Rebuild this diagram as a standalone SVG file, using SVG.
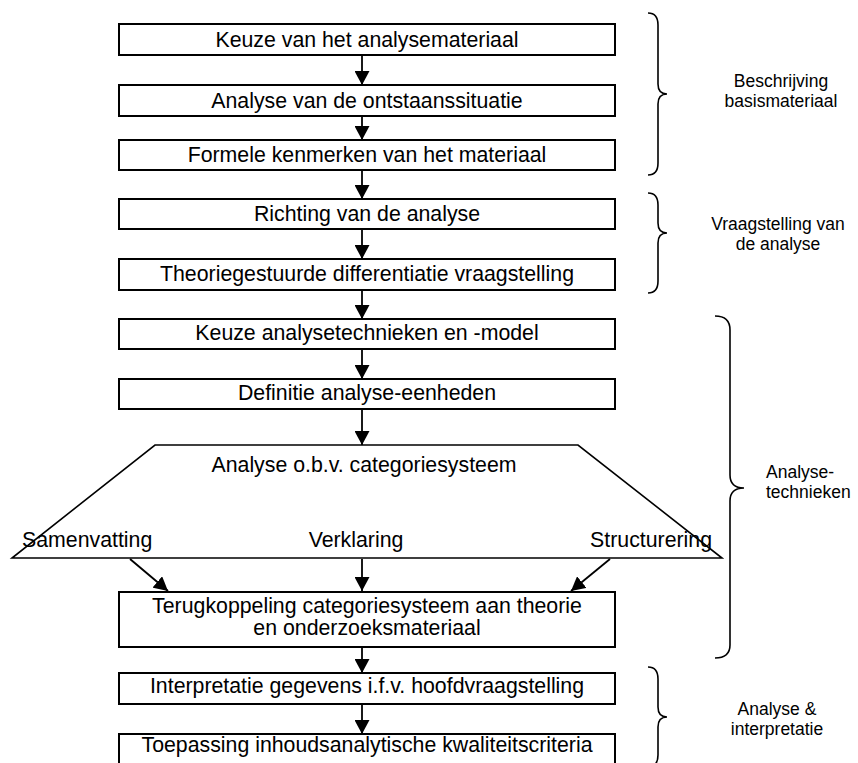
<svg xmlns="http://www.w3.org/2000/svg" width="858" height="763" viewBox="0 0 858 763">
<style>
.box{fill:#fff;stroke:#000;stroke-width:2}
.t{font-family:"Liberation Sans",Arial,sans-serif;font-size:21.3px;fill:#000;text-anchor:middle}
.l{font-family:"Liberation Sans",Arial,sans-serif;font-size:17.5px;fill:#000;text-anchor:middle}
.c line{stroke:#000;stroke-width:1.8}
.br{fill:none;stroke:#000;stroke-width:1.6}
</style>
<defs>
<marker id="ah" markerWidth="14" markerHeight="15" refX="14" refY="7.5" orient="auto" markerUnits="userSpaceOnUse"><path d="M0,0 L14,7.5 L0,15 Z" fill="#000"/></marker>
</defs>
<rect width="858" height="763" fill="#fff"/>
<g id="n1"><rect class="box" x="119" y="24" width="496" height="31"/><text class="t" x="367" y="47">Keuze van het analysemateriaal</text></g>
<g id="n2"><rect class="box" x="119" y="85" width="496" height="31"/><text class="t" x="367" y="108">Analyse van de ontstaanssituatie</text></g>
<g id="n3"><rect class="box" x="119" y="140" width="496" height="30"/><text class="t" x="367" y="162">Formele kenmerken van het materiaal</text></g>
<g id="n4"><rect class="box" x="119" y="199" width="496" height="30"/><text class="t" x="367" y="221">Richting van de analyse</text></g>
<g id="n5"><rect class="box" x="119" y="259" width="496" height="31"/><text class="t" x="367" y="281">Theoriegestuurde differentiatie vraagstelling</text></g>
<g id="n6"><rect class="box" x="119" y="319" width="496" height="30"/><text class="t" x="367" y="340">Keuze analysetechnieken en -model</text></g>
<g id="n7"><rect class="box" x="119" y="379" width="496" height="30"/><text class="t" x="367" y="400">Definitie analyse-eenheden</text></g>
<g id="n8"><polygon points="155,445 578,445 722,558 12,558" fill="#fff" stroke="#000" stroke-width="1.6"/>
<text class="t" x="364" y="472">Analyse o.b.v. categoriesysteem</text>
<text class="t" x="22" y="547" style="text-anchor:start">Samenvatting</text>
<text class="t" x="356" y="547">Verklaring</text>
<text class="t" x="712" y="547" style="text-anchor:end">Structurering</text></g>
<g id="n9"><rect class="box" x="119" y="592" width="496" height="55"/><text class="t" x="367" y="613">Terugkoppeling categoriesysteem aan theorie</text><text class="t" x="367" y="635">en onderzoeksmateriaal</text></g>
<g id="n10"><rect class="box" x="119" y="673" width="496" height="31"/><text class="t" x="367" y="693">Interpretatie gegevens i.f.v. hoofdvraagstelling</text></g>
<g id="n11"><rect class="box" x="119" y="734" width="496" height="34"/><text class="t" x="367" y="752">Toepassing inhoudsanalytische kwaliteitscriteria</text></g>
<g id="connectors" class="c">
<line x1="362" y1="55" x2="362" y2="85" marker-end="url(#ah)"/>
<line x1="362" y1="116" x2="362" y2="140" marker-end="url(#ah)"/>
<line x1="362" y1="170" x2="362" y2="199" marker-end="url(#ah)"/>
<line x1="362" y1="229" x2="362" y2="259" marker-end="url(#ah)"/>
<line x1="362" y1="290" x2="362" y2="319" marker-end="url(#ah)"/>
<line x1="362" y1="349" x2="362" y2="379" marker-end="url(#ah)"/>
<line x1="362" y1="409" x2="362" y2="445" marker-end="url(#ah)"/>
<line x1="130" y1="559" x2="168" y2="591" marker-end="url(#ah)"/>
<line x1="362" y1="559" x2="362" y2="591" marker-end="url(#ah)"/>
<line x1="610" y1="559" x2="571" y2="591" marker-end="url(#ah)"/>
<line x1="362" y1="647" x2="362" y2="673" marker-end="url(#ah)"/>
<line x1="362" y1="704" x2="362" y2="734" marker-end="url(#ah)"/>
</g>
<g id="g1"><path class="br" d="M648,13 Q658,13 658,25 L658,84 Q658,94 667,94 Q658,94 658,104 L658,163 Q658,175 648,175"/>
<text class="l" x="781" y="87">Beschrijving</text><text class="l" x="781" y="107">basismateriaal</text></g>
<g id="g2"><path class="br" d="M648,193 Q658,193 658,205 L658,223 Q658,233 667,233 Q658,233 658,243 L658,281 Q658,293 648,293"/>
<text class="l" x="778" y="230">Vraagstelling van</text><text class="l" x="778" y="250">de analyse</text></g>
<g id="g3"><path class="br" d="M715,316 Q730,316 730,330 L730,475 Q730,488 744,488 Q730,488 730,501 L730,645 Q730,658 715,658"/>
<text class="l" x="766" y="478" style="text-anchor:start">Analyse-</text><text class="l" x="766" y="498" style="text-anchor:start">technieken</text></g>
<g id="g4"><path class="br" d="M648,667 Q658,667 658,679 L658,707 Q658,717 667,717 Q658,717 658,727 L658,755 Q658,767 648,767"/>
<text class="l" x="777" y="715">Analyse &amp;</text><text class="l" x="777" y="735">interpretatie</text></g>
</svg>
